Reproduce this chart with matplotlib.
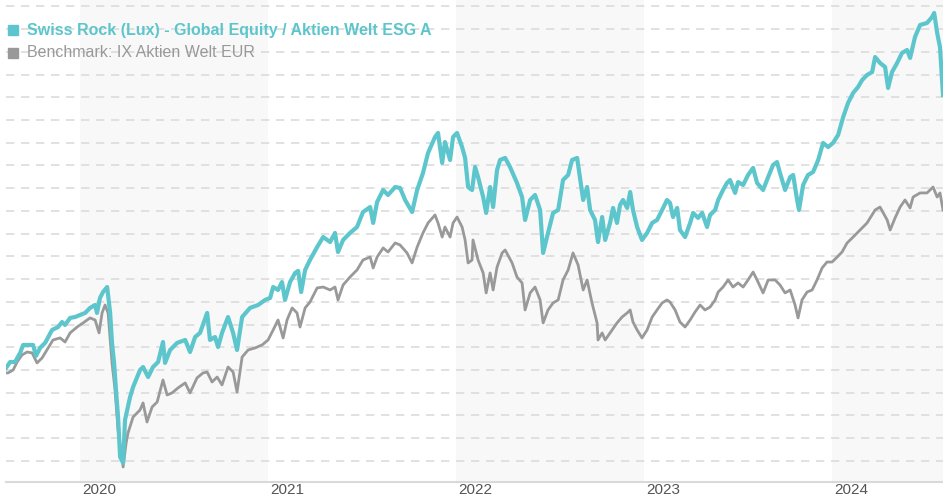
import matplotlib
matplotlib.use("Agg")
import matplotlib.pyplot as plt

# fund (teal) — decimal year, indexed value
fund_t = [2019.606, 2019.628, 2019.654, 2019.681, 2019.697, 2019.723, 2019.750, 2019.766, 2019.787,
          2019.814, 2019.851, 2019.883, 2019.904, 2019.920, 2019.947, 2019.973, 2020.000, 2020.027,
          2020.053, 2020.080, 2020.090, 2020.106, 2020.122, 2020.144, 2020.160, 2020.170, 2020.181,
          2020.191, 2020.202, 2020.213, 2020.229, 2020.239, 2020.266, 2020.282, 2020.319, 2020.335,
          2020.362, 2020.388, 2020.415, 2020.441, 2020.452, 2020.479, 2020.516, 2020.559, 2020.585,
          2020.612, 2020.638, 2020.676, 2020.691, 2020.718, 2020.734, 2020.755, 2020.787, 2020.814,
          2020.835, 2020.862, 2020.904, 2020.947, 2020.984, 2021.011, 2021.027, 2021.053, 2021.074,
          2021.090, 2021.117, 2021.144, 2021.160, 2021.176, 2021.197, 2021.223, 2021.261, 2021.293,
          2021.330, 2021.356, 2021.372, 2021.399, 2021.436, 2021.473, 2021.505, 2021.543, 2021.559,
          2021.580, 2021.612, 2021.638, 2021.676, 2021.702, 2021.729, 2021.766, 2021.793, 2021.824,
          2021.851, 2021.888, 2021.904, 2021.926, 2021.941, 2021.968, 2021.984, 2022.005, 2022.032,
          2022.048, 2022.064, 2022.085, 2022.101, 2022.117, 2022.144, 2022.160, 2022.181, 2022.197,
          2022.218, 2022.234, 2022.261, 2022.287, 2022.324, 2022.351, 2022.367, 2022.394, 2022.420,
          2022.447, 2022.463, 2022.489, 2022.516, 2022.543, 2022.569, 2022.596, 2022.617, 2022.644,
          2022.676, 2022.697, 2022.713, 2022.739, 2022.755, 2022.777, 2022.793, 2022.819, 2022.835,
          2022.856, 2022.872, 2022.888, 2022.910, 2022.926, 2022.941, 2022.963, 2022.989, 2023.016,
          2023.043, 2023.069, 2023.096, 2023.122, 2023.138, 2023.154, 2023.176, 2023.191, 2023.218,
          2023.245, 2023.261, 2023.287, 2023.309, 2023.335, 2023.351, 2023.378, 2023.394, 2023.420,
          2023.441, 2023.457, 2023.484, 2023.500, 2023.527, 2023.553, 2023.580, 2023.601, 2023.633,
          2023.660, 2023.686, 2023.707, 2023.723, 2023.750, 2023.777, 2023.793, 2023.814, 2023.824,
          2023.846, 2023.872, 2023.899, 2023.926, 2023.952, 2023.979, 2024.005, 2024.032, 2024.059,
          2024.085, 2024.112, 2024.138, 2024.160, 2024.186, 2024.213, 2024.229, 2024.255, 2024.282,
          2024.298, 2024.319, 2024.346, 2024.372, 2024.399, 2024.415, 2024.441, 2024.468, 2024.505,
          2024.532, 2024.543, 2024.559, 2024.574, 2024.590]
fund_v = [100.9, 103.5, 103.5, 107.5, 111.0, 111.0, 111.0, 106.2, 109.7,
          111.9, 117.6, 118.9, 121.1, 119.8, 122.9, 123.3, 124.2, 125.1,
          127.3, 128.6, 125.1, 131.7, 134.3, 136.5, 125.1, 111.9, 103.1,
          91.2, 79.3, 61.7, 59.1, 78.0, 88.1, 92.5, 100.0, 101.3,
          96.9, 101.3, 103.5, 112.3, 103.1, 108.8, 111.9, 113.2, 107.9,
          114.5, 116.3, 125.1, 113.2, 114.5, 110.1, 116.3, 123.3, 116.3,
          108.8, 123.3, 127.3, 128.6, 130.8, 131.7, 136.5, 135.2, 138.7,
          130.8, 138.7, 142.7, 143.6, 134.3, 144.0, 148.4, 154.1, 158.5,
          156.3, 160.3, 151.9, 157.2, 160.3, 162.9, 169.5, 171.7, 164.7,
          173.9, 179.2, 177.0, 180.5, 180.1, 174.8, 169.5, 179.2, 186.7,
          195.5, 202.5, 204.3, 191.1, 200.3, 192.4, 202.5, 204.3, 198.1,
          193.3, 180.5, 179.2, 189.3, 184.9, 176.1, 169.1, 180.5, 171.7,
          188.0, 192.4, 193.3, 189.3, 182.3, 176.1, 166.0, 174.8, 177.0,
          170.4, 151.5, 160.3, 169.1, 170.4, 183.6, 185.8, 192.4, 193.3,
          174.8, 180.5, 170.4, 166.0, 156.3, 167.3, 157.2, 164.7, 171.3,
          164.7, 172.6, 174.8, 171.3, 178.3, 170.4, 162.9, 157.2, 160.3,
          164.7, 166.0, 170.4, 174.8, 173.5, 167.3, 171.3, 161.6, 158.5,
          164.7, 169.1, 166.9, 169.1, 162.9, 168.2, 170.4, 174.8, 179.2,
          182.3, 183.6, 177.9, 182.7, 181.4, 185.8, 188.9, 182.3, 179.2,
          184.9, 190.2, 191.5, 186.7, 179.2, 184.9, 185.8, 174.8, 170.4,
          181.4, 185.8, 187.1, 192.4, 199.9, 198.1, 199.9, 203.4, 211.3,
          217.5, 221.9, 224.5, 227.6, 229.8, 231.1, 237.7, 235.1, 233.3,
          224.1, 231.1, 235.1, 239.5, 240.8, 237.3, 246.5, 251.8, 252.7,
          255.3, 257.1, 248.3, 242.1, 221.0]

# benchmark (gray)
bench_t = [2019.606, 2019.617, 2019.644, 2019.665, 2019.691, 2019.718, 2019.745, 2019.771, 2019.798,
           2019.824, 2019.856, 2019.894, 2019.920, 2019.947, 2019.984, 2020.016, 2020.053, 2020.080,
           2020.101, 2020.117, 2020.133, 2020.149, 2020.170, 2020.186, 2020.202, 2020.229, 2020.245,
           2020.255, 2020.282, 2020.319, 2020.335, 2020.356, 2020.383, 2020.410, 2020.441, 2020.463,
           2020.489, 2020.521, 2020.559, 2020.585, 2020.622, 2020.654, 2020.676, 2020.702, 2020.729,
           2020.755, 2020.787, 2020.814, 2020.835, 2020.862, 2020.894, 2020.931, 2020.968, 2021.000,
           2021.027, 2021.053, 2021.080, 2021.101, 2021.128, 2021.154, 2021.170, 2021.197, 2021.223,
           2021.261, 2021.293, 2021.330, 2021.356, 2021.372, 2021.399, 2021.436, 2021.473, 2021.505,
           2021.543, 2021.559, 2021.580, 2021.612, 2021.638, 2021.676, 2021.702, 2021.739, 2021.766,
           2021.793, 2021.824, 2021.851, 2021.888, 2021.904, 2021.926, 2021.941, 2021.968, 2021.984,
           2022.005, 2022.032, 2022.048, 2022.064, 2022.085, 2022.090, 2022.117, 2022.144, 2022.160,
           2022.181, 2022.197, 2022.218, 2022.245, 2022.261, 2022.298, 2022.324, 2022.351, 2022.367,
           2022.394, 2022.420, 2022.447, 2022.463, 2022.489, 2022.516, 2022.543, 2022.569, 2022.596,
           2022.622, 2022.649, 2022.676, 2022.697, 2022.723, 2022.750, 2022.755, 2022.777, 2022.793,
           2022.830, 2022.856, 2022.883, 2022.910, 2022.926, 2022.941, 2022.963, 2022.989, 2023.016,
           2023.043, 2023.069, 2023.096, 2023.122, 2023.138, 2023.165, 2023.191, 2023.218, 2023.245,
           2023.271, 2023.298, 2023.324, 2023.351, 2023.378, 2023.394, 2023.420, 2023.447, 2023.473,
           2023.500, 2023.527, 2023.553, 2023.580, 2023.601, 2023.633, 2023.660, 2023.697, 2023.723,
           2023.750, 2023.777, 2023.803, 2023.819, 2023.840, 2023.867, 2023.894, 2023.920, 2023.947,
           2023.973, 2024.000, 2024.027, 2024.053, 2024.080, 2024.112, 2024.149, 2024.186, 2024.229,
           2024.255, 2024.293, 2024.309, 2024.335, 2024.362, 2024.388, 2024.415, 2024.431, 2024.468,
           2024.505, 2024.537, 2024.559, 2024.574, 2024.590]
bench_v = [98.7, 98.7, 100.0, 103.5, 106.6, 107.9, 107.5, 103.1, 105.3,
           108.8, 113.2, 114.1, 112.3, 116.3, 118.9, 120.7, 122.9, 122.0,
           116.3, 125.1, 128.6, 125.1, 103.1, 91.2, 73.6, 57.3, 67.9,
           72.3, 79.3, 82.4, 85.5, 77.1, 83.7, 85.9, 95.6, 89.0,
           89.9, 92.1, 94.3, 89.9, 96.5, 98.7, 99.1, 94.7, 96.9,
           93.4, 101.3, 99.1, 90.3, 105.7, 108.8, 109.7, 111.0, 113.2,
           117.6, 122.0, 114.1, 122.0, 127.3, 125.1, 118.9, 127.3, 129.9,
           136.1, 136.5, 135.2, 136.5, 130.8, 137.4, 140.9, 144.0, 148.4,
           149.7, 144.9, 149.7, 153.7, 151.9, 155.9, 155.0, 151.5, 147.1,
           154.1, 160.3, 164.7, 168.2, 164.7, 158.5, 162.9, 158.5, 164.7,
           167.3, 162.9, 157.2, 147.1, 148.4, 157.2, 148.4, 142.7, 133.9,
           142.7, 135.2, 145.3, 151.5, 152.8, 147.1, 140.9, 138.3, 126.4,
           133.9, 136.5, 130.8, 120.7, 126.4, 129.5, 130.8, 139.6, 144.0,
           151.5, 146.2, 135.2, 139.6, 129.5, 120.7, 113.2, 116.3, 113.2,
           117.6, 120.7, 123.3, 125.1, 126.4, 121.1, 117.6, 114.1, 117.6,
           123.3, 126.4, 129.5, 130.8, 129.9, 126.4, 121.1, 118.9, 122.0,
           125.5, 128.6, 126.4, 127.7, 130.8, 134.3, 136.5, 139.6, 136.5,
           138.3, 136.5, 139.6, 143.1, 139.6, 133.9, 139.6, 139.6, 137.4,
           133.9, 135.2, 128.6, 122.9, 130.8, 134.3, 135.2, 139.6, 144.9,
           147.5, 147.5, 149.7, 151.9, 155.9, 158.5, 161.6, 164.7, 170.4,
           171.7, 166.0, 161.6, 166.9, 171.7, 174.8, 171.3, 176.1, 177.9,
           177.9, 180.5, 176.1, 177.9, 170.4]

years = [2020, 2021, 2022, 2023, 2024]
shaded_years = [2020, 2022, 2024]
fund_name = "Swiss Rock (Lux) - Global Equity / Aktien Welt ESG A"
bench_name = "Benchmark: IX Aktien Welt EUR"

TEAL = "#5cc6cc"
GRAY = "#999999"

plt.rcParams["font.family"] = ["Liberation Sans", "DejaVu Sans"]

fig = plt.figure(figsize=(9.43, 5.0), dpi=100)
ax = fig.add_axes([6 / 943, 18 / 500, 937 / 943, 482 / 500])

x0, x1 = 2019.606, 2024.590
ax.set_xlim(x0, x1)
ax.set_ylim(50.7, 262.8)

# alternating year bands
for y in shaded_years:
    ax.axvspan(y, min(y + 1, x1), color="#f8f8f8", zorder=0, lw=0)

# dashed horizontal grid
for g in range(60, 261, 10):
    ax.axhline(g, color="#dcdcdc", lw=1.2, ls=(0, (5, 4)), zorder=1)

ax.plot(bench_t, bench_v, color=GRAY, lw=2.0, zorder=3, solid_joinstyle="round")
ax.plot(fund_t, fund_v, color=TEAL, lw=3.0, zorder=4, solid_joinstyle="round")

for s in ["top", "right", "left"]:
    ax.spines[s].set_visible(False)
ax.spines["bottom"].set_color("#d9d9d9")
ax.spines["bottom"].set_linewidth(1.5)
ax.set_yticks([])
ax.set_xticks(years)
ax.set_xticklabels([])
ax.tick_params(axis="x", length=0)
for y in years:
    ax.annotate(str(y), xy=(y, 0), xycoords=("data", "axes fraction"),
                xytext=(1.5, -6), textcoords="offset points", ha="left", va="center",
                fontsize=11, color="#555555")

# legend
ax.plot([0.0075], [0.937], transform=ax.transAxes, marker="s", ms=7, color=TEAL,
        ls="none", clip_on=False, zorder=6)
ax.text(0.022, 0.937, fund_name, transform=ax.transAxes, fontsize=11.5,
        fontweight="bold", color=TEAL, va="center", ha="left", zorder=6)
ax.plot([0.0075], [0.891], transform=ax.transAxes, marker="s", ms=7, color=GRAY,
        ls="none", clip_on=False, zorder=6)
ax.text(0.022, 0.891, bench_name, transform=ax.transAxes, fontsize=11.5,
        color=GRAY, va="center", ha="left", zorder=6)

fig.savefig("out.png", dpi=100)
